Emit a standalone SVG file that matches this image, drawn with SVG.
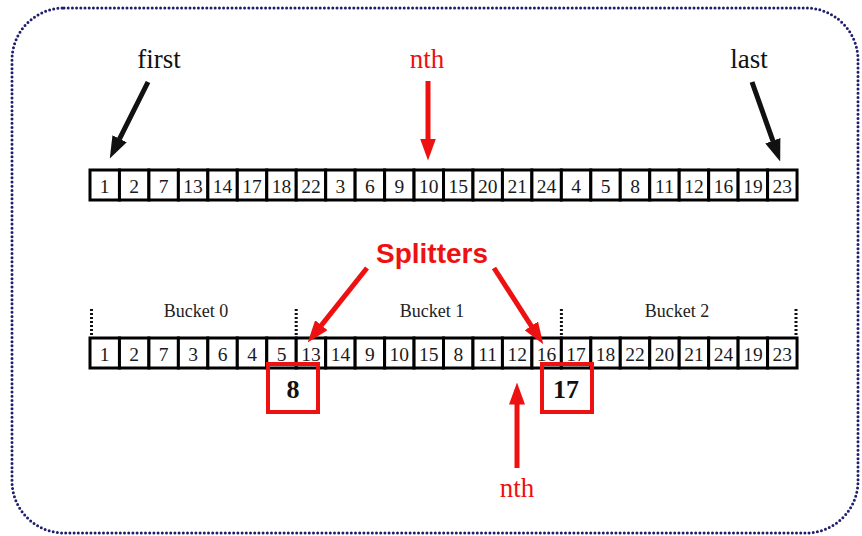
<svg xmlns="http://www.w3.org/2000/svg" width="862" height="536" viewBox="0 0 862 536">
  <style>
    .frame { fill: none; stroke: #1f1f6b; stroke-width: 3; stroke-dasharray: 0 4.2; stroke-linecap: round; }
    .cell rect { fill: #ffffff; stroke: #000000; stroke-width: 3; }
    .cell text { font-family: "Liberation Serif", "Times New Roman", serif; font-size: 19.5px; fill: #1a1a1a; text-anchor: middle; }
    .lbl { font-family: "Liberation Serif", "Times New Roman", serif; font-size: 27px; text-anchor: middle; }
    .black { fill: #111111; }
    .red { fill: #ee1111; }
    .bucket { font-family: "Liberation Serif", "Times New Roman", serif; font-size: 18px; fill: #222222; text-anchor: middle; }
    .divider { stroke: #111111; stroke-width: 3; stroke-dasharray: 2 2; }
    .shaft-k { stroke: #111111; stroke-width: 5; fill: none; }
    .shaft-r { stroke: #ee1111; stroke-width: 5; fill: none; }
    .splitbox { fill: none; stroke: #ee1111; stroke-width: 4; }
    .splitval { font-family: "Liberation Serif", "Times New Roman", serif; font-weight: bold; font-size: 26px; fill: #111111; text-anchor: middle; }
    .splitters { font-family: "Liberation Sans", Arial, sans-serif; font-weight: bold; font-size: 28px; fill: #ee1111; text-anchor: middle; }
  </style>
  <defs>
    <!-- arrowheads: base sits on the shaft end, tip 22px further on -->
    <marker id="headK" viewBox="0 0 22 16" refX="0.5" refY="8" markerWidth="22" markerHeight="16" markerUnits="userSpaceOnUse" orient="auto">
      <path d="M0,0 L22,8 L0,16 Z" fill="#111111"/>
    </marker>
    <marker id="headR" viewBox="0 0 22 16" refX="0.5" refY="8" markerWidth="22" markerHeight="16" markerUnits="userSpaceOnUse" orient="auto">
      <path d="M0,0 L22,8 L0,16 Z" fill="#ee1111"/>
    </marker>
  </defs>

  <rect width="862" height="536" fill="#ffffff"/>
  <!-- dotted rounded outline -->
  <rect class="frame" x="12" y="8" width="846" height="525" rx="52" ry="52"/>

  <!-- labels above the input array -->
  <g id="label-first"><text class="lbl black" x="159" y="68">first</text></g>
  <g id="label-nth-top"><text class="lbl red" x="427" y="68">nth</text></g>
  <g id="label-last"><text class="lbl black" x="749" y="68">last</text></g>

  <!-- input array -->
  <g id="array-input" class="cell">
    <rect x="90" y="170" width="29.46" height="30"/><text x="104.7" y="192.5">1</text>
    <rect x="119.46" y="170" width="29.46" height="30"/><text x="134.2" y="192.5">2</text>
    <rect x="148.92" y="170" width="29.46" height="30"/><text x="163.7" y="192.5">7</text>
    <rect x="178.38" y="170" width="29.46" height="30"/><text x="193.1" y="192.5">13</text>
    <rect x="207.84" y="170" width="29.46" height="30"/><text x="222.6" y="192.5">14</text>
    <rect x="237.3" y="170" width="29.46" height="30"/><text x="252.0" y="192.5">17</text>
    <rect x="266.76" y="170" width="29.46" height="30"/><text x="281.5" y="192.5">18</text>
    <rect x="296.22" y="170" width="29.46" height="30"/><text x="311.0" y="192.5">22</text>
    <rect x="325.68" y="170" width="29.46" height="30"/><text x="340.4" y="192.5">3</text>
    <rect x="355.14" y="170" width="29.46" height="30"/><text x="369.9" y="192.5">6</text>
    <rect x="384.6" y="170" width="29.46" height="30"/><text x="399.3" y="192.5">9</text>
    <rect x="414.06" y="170" width="29.46" height="30"/><text x="428.8" y="192.5">10</text>
    <rect x="443.52" y="170" width="29.46" height="30"/><text x="458.3" y="192.5">15</text>
    <rect x="472.98" y="170" width="29.46" height="30"/><text x="487.7" y="192.5">20</text>
    <rect x="502.44" y="170" width="29.46" height="30"/><text x="517.2" y="192.5">21</text>
    <rect x="531.9" y="170" width="29.46" height="30"/><text x="546.6" y="192.5">24</text>
    <rect x="561.36" y="170" width="29.46" height="30"/><text x="576.1" y="192.5">4</text>
    <rect x="590.82" y="170" width="29.46" height="30"/><text x="605.6" y="192.5">5</text>
    <rect x="620.28" y="170" width="29.46" height="30"/><text x="635.0" y="192.5">8</text>
    <rect x="649.74" y="170" width="29.46" height="30"/><text x="664.5" y="192.5">11</text>
    <rect x="679.2" y="170" width="29.46" height="30"/><text x="693.9" y="192.5">12</text>
    <rect x="708.66" y="170" width="29.46" height="30"/><text x="723.4" y="192.5">16</text>
    <rect x="738.12" y="170" width="29.46" height="30"/><text x="752.9" y="192.5">19</text>
    <rect x="767.58" y="170" width="29.46" height="30"/><text x="782.3" y="192.5">23</text>
  </g>

  <!-- splitters heading -->
  <g id="label-splitters"><text class="splitters" x="432" y="263">Splitters</text></g>

  <!-- bucket headers and boundaries -->
  <g id="buckets">
    <text class="bucket" x="196" y="317">Bucket 0</text>
    <text class="bucket" x="432" y="317">Bucket 1</text>
    <text class="bucket" x="677" y="317">Bucket 2</text>
    <line class="divider" x1="91.5" y1="309" x2="91.5" y2="338"/>
    <line class="divider" x1="296.2" y1="309" x2="296.2" y2="338"/>
    <line class="divider" x1="561.4" y1="309" x2="561.4" y2="338"/>
    <line class="divider" x1="796" y1="309" x2="796" y2="338"/>
  </g>

  <!-- bucketed array -->
  <g id="array-bucketed" class="cell">
    <rect x="90" y="338" width="29.46" height="30"/><text x="104.7" y="360.5">1</text>
    <rect x="119.46" y="338" width="29.46" height="30"/><text x="134.2" y="360.5">2</text>
    <rect x="148.92" y="338" width="29.46" height="30"/><text x="163.7" y="360.5">7</text>
    <rect x="178.38" y="338" width="29.46" height="30"/><text x="193.1" y="360.5">3</text>
    <rect x="207.84" y="338" width="29.46" height="30"/><text x="222.6" y="360.5">6</text>
    <rect x="237.3" y="338" width="29.46" height="30"/><text x="252.0" y="360.5">4</text>
    <rect x="266.76" y="338" width="29.46" height="30"/><text x="281.5" y="360.5">5</text>
    <rect x="296.22" y="338" width="29.46" height="30"/><text x="311.0" y="360.5">13</text>
    <rect x="325.68" y="338" width="29.46" height="30"/><text x="340.4" y="360.5">14</text>
    <rect x="355.14" y="338" width="29.46" height="30"/><text x="369.9" y="360.5">9</text>
    <rect x="384.6" y="338" width="29.46" height="30"/><text x="399.3" y="360.5">10</text>
    <rect x="414.06" y="338" width="29.46" height="30"/><text x="428.8" y="360.5">15</text>
    <rect x="443.52" y="338" width="29.46" height="30"/><text x="458.3" y="360.5">8</text>
    <rect x="472.98" y="338" width="29.46" height="30"/><text x="487.7" y="360.5">11</text>
    <rect x="502.44" y="338" width="29.46" height="30"/><text x="517.2" y="360.5">12</text>
    <rect x="531.9" y="338" width="29.46" height="30"/><text x="546.6" y="360.5">16</text>
    <rect x="561.36" y="338" width="29.46" height="30"/><text x="576.1" y="360.5">17</text>
    <rect x="590.82" y="338" width="29.46" height="30"/><text x="605.6" y="360.5">18</text>
    <rect x="620.28" y="338" width="29.46" height="30"/><text x="635.0" y="360.5">22</text>
    <rect x="649.74" y="338" width="29.46" height="30"/><text x="664.5" y="360.5">20</text>
    <rect x="679.2" y="338" width="29.46" height="30"/><text x="693.9" y="360.5">21</text>
    <rect x="708.66" y="338" width="29.46" height="30"/><text x="723.4" y="360.5">24</text>
    <rect x="738.12" y="338" width="29.46" height="30"/><text x="752.9" y="360.5">19</text>
    <rect x="767.58" y="338" width="29.46" height="30"/><text x="782.3" y="360.5">23</text>
  </g>

  <!-- splitter values -->
  <g id="splitter-8">
    <rect class="splitbox" x="268" y="364" width="50" height="48"/>
    <text class="splitval" x="293" y="398">8</text>
  </g>
  <g id="splitter-17">
    <rect class="splitbox" x="542" y="364" width="50" height="48"/>
    <text class="splitval" x="566" y="398">17</text>
  </g>

  <g id="label-nth-bottom"><text class="lbl red" x="517" y="497">nth</text></g>

  <!-- connectors (shafts stop where the arrowhead begins) -->
  <g id="connectors">
    <line class="shaft-k" x1="148" y1="82" x2="119.4" y2="139.2" marker-end="url(#headK)"/>
    <line class="shaft-r" x1="428" y1="81" x2="428" y2="139" marker-end="url(#headR)"/>
    <line class="shaft-k" x1="752" y1="82" x2="773" y2="141.2" marker-end="url(#headK)"/>
    <line class="shaft-r" x1="367" y1="268" x2="321.1" y2="325.6" marker-end="url(#headR)"/>
    <line class="shaft-r" x1="494" y1="268" x2="531.6" y2="326.3" marker-end="url(#headR)"/>
    <line class="shaft-r" x1="517" y1="468" x2="517" y2="404" marker-end="url(#headR)"/>
  </g>
</svg>
